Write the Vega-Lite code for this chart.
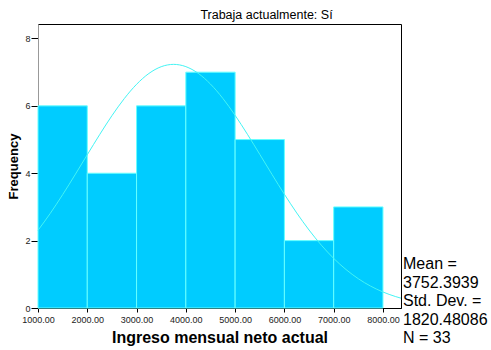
{
  "$schema": "https://vega.github.io/schema/vega-lite/v6.json",
  "width": 363,
  "height": 284,
  "autosize": {"type": "none"},
  "padding": {"left": 38, "top": 24, "right": 90, "bottom": 42},
  "background": "white",
  "config": {
    "font": "Liberation Sans",
    "view": {"stroke": "black", "strokeWidth": 1}
  },
  "title": {
    "text": "Trabaja actualmente: Sí",
    "anchor": "middle",
    "dx": 47,
    "fontSize": 12.5,
    "fontWeight": "normal",
    "font": "Liberation Sans",
    "color": "black",
    "offset": 3
  },
  "datasets": {
    "bins": [
      {"start": 1000, "end": 2000, "count": 6},
      {"start": 2000, "end": 3000, "count": 4},
      {"start": 3000, "end": 4000, "count": 6},
      {"start": 4000, "end": 5000, "count": 7},
      {"start": 5000, "end": 6000, "count": 5},
      {"start": 6000, "end": 7000, "count": 2},
      {"start": 7000, "end": 8000, "count": 3}
    ],
    "curve": [
      {"x": 1000, "y": 2.306},
      {"x": 1250, "y": 2.8115},
      {"x": 1500, "y": 3.3638},
      {"x": 1750, "y": 3.9495},
      {"x": 2000, "y": 4.55},
      {"x": 2250, "y": 5.1443},
      {"x": 2500, "y": 5.708},
      {"x": 2750, "y": 6.2144},
      {"x": 3000, "y": 6.6396},
      {"x": 3250, "y": 6.9614},
      {"x": 3500, "y": 7.1625},
      {"x": 3750, "y": 7.2316},
      {"x": 4000, "y": 7.165},
      {"x": 4250, "y": 6.9664},
      {"x": 4500, "y": 6.6469},
      {"x": 4750, "y": 6.2234},
      {"x": 5000, "y": 5.7183},
      {"x": 5250, "y": 5.1554},
      {"x": 5500, "y": 4.5615},
      {"x": 5750, "y": 3.9609},
      {"x": 6000, "y": 3.3748},
      {"x": 6250, "y": 2.8217},
      {"x": 6500, "y": 2.3151},
      {"x": 6750, "y": 1.8643},
      {"x": 7000, "y": 1.473},
      {"x": 7250, "y": 1.1422},
      {"x": 7500, "y": 0.869},
      {"x": 7750, "y": 0.6489},
      {"x": 8000, "y": 0.4755},
      {"x": 8250, "y": 0.3419},
      {"x": 8366, "y": 0.2914}
    ],
    "stats": [
      {"label": "Mean =\n3752.3939\nStd. Dev. =\n1820.48086\nN = 33"}
    ]
  },
  "layer": [
    {
      "data": {"name": "bins"},
      "mark": {"type": "rect", "fill": "#00CCFF", "stroke": "#66FFFF", "strokeWidth": 1},
      "encoding": {
        "x": {
          "field": "start", "type": "quantitative",
          "scale": {"domain": [1000, 8366], "nice": false, "zero": false},
          "axis": {
            "values": [1000, 2000, 3000, 4000, 5000, 6000, 7000, 8000],
            "format": ".2f",
            "labelFlush": false,
            "labelOverlap": false,
            "title": "Ingreso mensual neto actual",
            "titleFontSize": 16,
            "titleFontWeight": "bold",
            "titleColor": "black",
            "titlePadding": 5,
            "labelFontSize": 9,
            "labelColor": "#222222",
            "labelPadding": 3,
            "tickSize": 4,
            "tickColor": "black",
            "domainColor": "black",
            "grid": false
          }
        },
        "x2": {"field": "end"},
        "y": {
          "field": "count", "type": "quantitative",
          "scale": {"domain": [0, 8.43], "nice": false},
          "axis": {
            "values": [0, 2, 4, 6, 8],
            "labelFlush": false,
            "title": "Frequency",
            "titleFontSize": 13,
            "titleFontWeight": "bold",
            "titleColor": "black",
            "titlePadding": 4,
            "labelFontSize": 9,
            "labelColor": "#222222",
            "labelPadding": 1,
            "tickSize": 7,
            "tickColor": "black",
            "domainColor": "#999999",
            "grid": false
          }
        },
        "y2": {"datum": 0}
      }
    },
    {
      "data": {"name": "curve"},
      "mark": {"type": "line", "color": "#44F4F4", "strokeWidth": 1, "interpolate": "monotone"},
      "encoding": {
        "x": {"field": "x", "type": "quantitative"},
        "y": {"field": "y", "type": "quantitative"}
      }
    },
    {
      "data": {"name": "stats"},
      "mark": {"type": "text", "align": "left", "baseline": "top", "dx": 2, "fontSize": 16, "lineBreak": "\n", "lineHeight": 18.5, "color": "black", "font": "Liberation Sans"},
      "encoding": {
        "x": {"datum": 8366, "type": "quantitative"},
        "y": {"datum": 1.53, "type": "quantitative"},
        "text": {"field": "label"}
      }
    }
  ]
}
